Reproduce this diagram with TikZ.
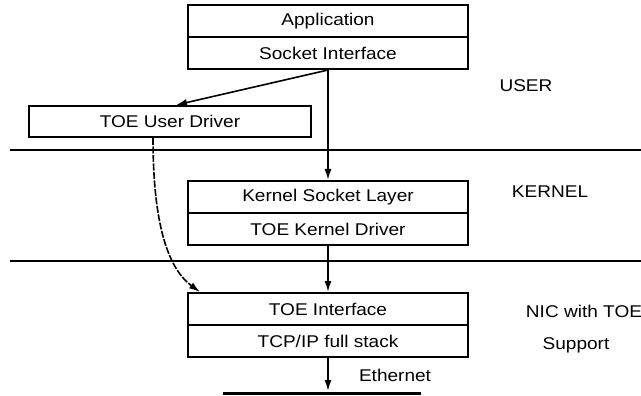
\documentclass[tikz,border=0pt]{standalone}
\usepackage{fontspec}
\setmainfont[FakeStretch=1.12]{Liberation Sans}
\usetikzlibrary{arrows.meta}
\begin{document}
\begin{tikzpicture}[x=1pt,y=-1pt,
  layer/.style={draw, line width=2pt, minimum width=280pt, minimum height=32pt, inner sep=0pt, font=\fontsize{17}{19}\selectfont},
  lbl/.style={font=\fontsize{17}{19}\selectfont, inner sep=0pt},
  arr/.style={line width=1.6pt, -{Latex[length=11pt,width=7pt]}},
  sep/.style={line width=2.2pt}]
\useasboundingbox (0,0) rectangle (641,396);
\node[layer] (app) at (328,21) {Application};
\node[layer] (sock) at (328,53) {Socket Interface};
\node[layer, minimum width=282pt, minimum height=31pt] (udrv) at (170,121.5) {TOE User Driver};
\node[layer] (ksock) at (328,197) {Kernel Socket Layer};
\node[layer] (kdrv) at (328,229) {TOE Kernel Driver};
\node[layer] (toeif) at (328,309) {TOE Interface};
\node[layer] (tcp) at (328,341) {TCP/IP full stack};
\node[lbl] (user) at (526,86) {USER};
\node[lbl] (kern) at (550,192) {KERNEL};
\node[lbl] (nic) at (584,311) {NIC with TOE};
\node[lbl] (sup) at (576,345) {Support};
\node[lbl] (ethl) at (395,375) {Ethernet};
\coordinate (l1a) at (10,150); \coordinate (l1b) at (641,150);
\coordinate (l2a) at (10,261); \coordinate (l2b) at (641,261);
\coordinate (eA) at (223,393); \coordinate (eB) at (421,393);
\coordinate (eM) at (328,391);
\draw[sep] (l1a) -- (l1b);
\draw[sep] (l2a) -- (l2b);
\draw[line width=3pt] (eA) -- (eB);
\draw[arr] (sock.south) -- ([xshift=6pt]udrv.north);
\draw[arr] (sock.south) -- (ksock.north);
\draw[arr] (kdrv.south) -- (toeif.north);
\draw[arr] (tcp.south) -- (eM);
\draw[arr, dash pattern=on 7pt off 1.5pt] ([xshift=-17pt]udrv.south) .. controls (153,230) and (170,270) .. ([xshift=-128pt]toeif.north);
\end{tikzpicture}
\end{document}
